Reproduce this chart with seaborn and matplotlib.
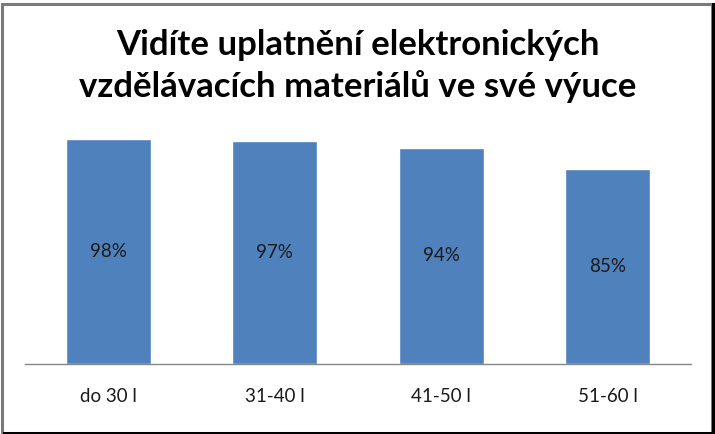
import matplotlib
matplotlib.use("Agg")
import matplotlib.pyplot as plt
import seaborn as sns
import pandas as pd
from matplotlib.patches import Rectangle

# Data
categories = ["do 30 l", "31-40 l", "41-50 l", "51-60 l"]
values = [0.98, 0.97, 0.94, 0.85]
value_labels = ["98%", "97%", "94%", "85%"]
title_lines = ["Vidíte uplatnění elektronických",
               "vzdělávacích materiálů ve své výuce"]

W, H = 715, 434
sns.set_style("white")
plt.rcParams["font.family"] = ["Lato", "DejaVu Sans"]

fig = plt.figure(figsize=(W / 100, H / 100), dpi=100)
fig.patch.set_facecolor("white")

# plot area in pixels
left, right, top, bottom = 25, 691, 134, 364
ax = fig.add_axes([left / W, (H - bottom) / H, (right - left) / W, (bottom - top) / H])

df = pd.DataFrame({"cat": categories, "val": values})
sns.barplot(data=df, x="cat", y="val", color="#4F81BD", saturation=1,
            width=0.51, ax=ax)
ax.set_ylim(0, 1.0)
ax.set_xlim(-0.5, len(categories) - 0.5)

ax.bar_label(ax.containers[0], labels=value_labels, label_type="center",
             fontsize=13.5, color="#1a1a1a")

ax.set_xlabel("")
ax.set_ylabel("")
ax.set_yticks([])
ax.tick_params(axis="x", length=0, pad=17, labelsize=13.5, labelcolor="#1a1a1a")
for s in ["top", "left", "right"]:
    ax.spines[s].set_visible(False)
ax.spines["bottom"].set_color("#868686")
ax.spines["bottom"].set_linewidth(1.0)
ax.set_facecolor("none")

# title
fig.text(358 / W, 1 - 45 / H, title_lines[0], ha="center", va="center",
         fontsize=25, fontweight="bold", color="black")
fig.text(358 / W, 1 - 87 / H, title_lines[1], ha="center", va="center",
         fontsize=25, fontweight="bold", color="black")

# frame with shadow on right and bottom
fig.patches.append(Rectangle((1.5 / W, 1.5 / H), (W - 5) / W, (H - 5) / H,
                             transform=fig.transFigure, fill=False,
                             edgecolor="#7a7a7a", linewidth=2.2))
fig.patches.append(Rectangle(((W - 3) / W, 0), 3 / W, (H - 3) / H,
                             transform=fig.transFigure, color="black", lw=0))
fig.patches.append(Rectangle((3 / W, 0), (W - 3) / W, 2.5 / H,
                             transform=fig.transFigure, color="black", lw=0))

fig.savefig("out.png", dpi=100)
